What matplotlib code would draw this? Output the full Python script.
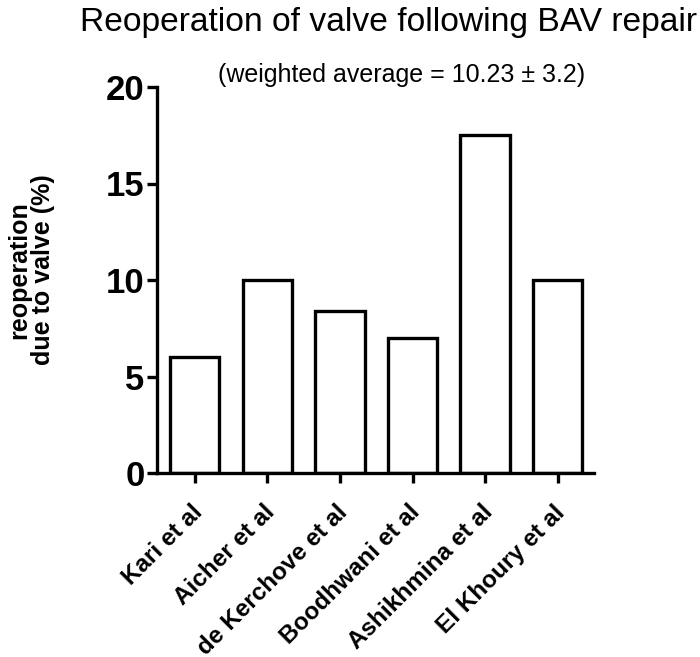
import matplotlib

matplotlib.use("Agg")
import matplotlib.pyplot as plt  # noqa: E402
import matplotlib.transforms as mtransforms  # noqa: E402

studies = ["Kari et al", "Aicher et al", "de Kerchove et al",
           "Boodhwani et al", "Ashikhmina et al", "El Khoury et al"]
reop_pct = [6.0, 10.0, 8.4, 7.0, 17.5, 10.0]
y_ticks = [0, 5, 10, 15, 20]

title = "Reoperation of valve following BAV repair"
subtitle = "(weighted average = 10.23 \u00b1 3.2)"
ylabel = "reoperation\ndue to valve (%)"

plt.rcParams["font.family"] = ["Liberation Sans", "DejaVu Sans"]

fig = plt.figure(figsize=(7.0, 6.57), dpi=100)
ax = fig.add_axes([157 / 700, 1 - 473 / 657, (594 - 157) / 700, (473 - 87) / 657])

x = list(range(len(studies)))
ax.bar(x, reop_pct, width=0.68, color="white", edgecolor="black", linewidth=2.4)

ax.set_xlim(-0.52, len(studies) - 0.5)
ax.set_ylim(0, 20)
ax.set_yticks(y_ticks)
ax.set_yticklabels([str(t) for t in y_ticks], fontsize=25, fontweight="bold")
ax.set_xticks(x)
ax.set_xticklabels([])

# study names sit below and a little right of their ticks, as in the original
shift = mtransforms.ScaledTranslation(4 / 100, -36 / 100, fig.dpi_scale_trans)
for xi, name in zip(x, studies):
    ax.text(xi, 0, name, transform=ax.get_xaxis_transform() + shift,
            fontsize=17.5, fontweight="bold", rotation=45,
            ha="right", va="center", rotation_mode="anchor")

for side in ("top", "right"):
    ax.spines[side].set_visible(False)
for side in ("left", "bottom"):
    ax.spines[side].set_linewidth(2.4)
ax.tick_params(axis="both", direction="out", length=7, width=2.4, color="black")
ax.tick_params(axis="y", pad=2)

ax.set_ylabel(ylabel, fontsize=18, fontweight="bold", linespacing=1.0)
ax.yaxis.set_label_coords((55 - 157) / 437, (473 - 270) / 386)

# title and note are squeezed to the width they take in the original
t_title = fig.text(80 / 700, 1 - 22 / 657, title, fontsize=26,
                   ha="left", va="center")
t_note = fig.text(218 / 700, 1 - 75 / 657, subtitle, fontsize=17,
                  ha="left", va="center")
fig.canvas.draw()
renderer = fig.canvas.get_renderer()
for txt, target_px in ((t_title, 618), (t_note, 369)):
    w = txt.get_window_extent(renderer).width
    txt.set_fontsize(txt.get_fontsize() * target_px / w)

fig.savefig("out.png", dpi=100)
